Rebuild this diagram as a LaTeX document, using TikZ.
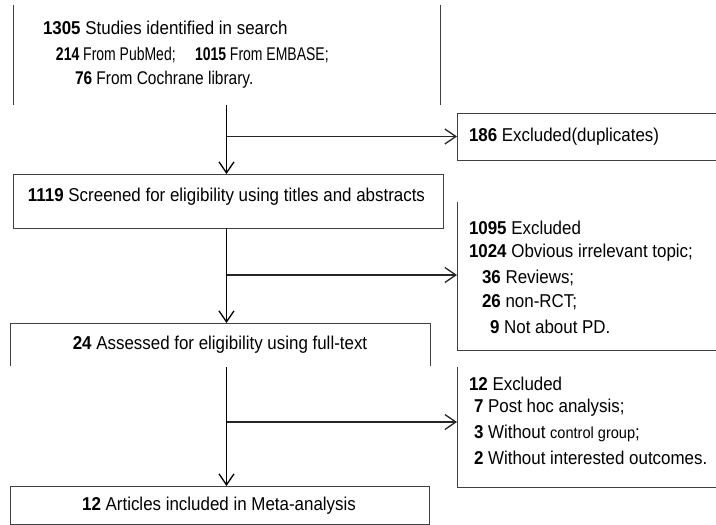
\documentclass[tikz,border=0pt]{standalone}
\usepackage{fontspec}
\setmainfont{Liberation Sans}[FakeStretch=0.91]
\newfontfamily\narrowfont{Liberation Sans}[FakeStretch=0.84]
\newfontfamily\narrowerfont{Liberation Sans}[FakeStretch=0.76]
\usetikzlibrary{arrows.meta,calc}
\newcommand\bnum[1]{\textbf{#1}}
\begin{document}
\begin{tikzpicture}[x=1pt,y=-1pt,
  boxn/.style={draw=none,rectangle,inner sep=0pt,outer sep=0pt},
  edge/.style={line width=0.9pt,draw=black!75},
  flow/.style={line width=1.7pt,draw=black},
  branch/.style={line width=1.5pt,draw=black!85},
  arr/.style={-{Straight Barb[length=11pt,width=15pt,line width=1.3pt]}},
  lbl/.style={inner sep=0pt,outer sep=0pt,anchor=west,font=\fontsize{18.6}{22}\selectfont},
  slbl/.style={inner sep=0pt,outer sep=0pt,anchor=west,font=\narrowfont\fontsize{18.4}{22}\selectfont},
  tlbl/.style={inner sep=0pt,outer sep=0pt,anchor=west,font=\narrowerfont\fontsize{18.4}{22}\selectfont},
  clbl/.style={inner sep=0pt,outer sep=0pt,anchor=center,font=\fontsize{18.6}{22}\selectfont}]
\useasboundingbox (0,0) rectangle (716,525);

% boxes (geometry)
\node[boxn,minimum width=427pt,minimum height=100pt] (b1) at (226.5,55) {};
\node[boxn,minimum width=262pt,minimum height=47pt] (e1) at (588,136.5) {};
\node[boxn,minimum width=430pt,minimum height=54pt] (b2) at (228,201) {};
\node[boxn,minimum width=262pt,minimum height=148pt] (e2) at (588,276) {};
\node[boxn,minimum width=420pt,minimum height=43pt] (b4) at (220,344.5) {};
\node[boxn,minimum width=262pt,minimum height=120pt] (e3) at (588,427) {};
\node[boxn,minimum width=419pt,minimum height=38pt] (b5) at (219.5,505) {};

% box outlines (as printed)
\draw[edge] (b1.north west) -- (b1.south west);
\draw[edge] (b1.north east) -- (b1.south east);
\draw[edge] (e1.north east) -- (e1.north west) -- (e1.south west) -- (e1.south east);
\draw[edge] (b2.north west) rectangle (b2.south east);
\draw[edge] (e2.north west) -- (e2.south west) -- (e2.south east);
\draw[edge] (b4.south west) -- (b4.north west) -- (b4.north east) -- (b4.south east);
\draw[edge] (e3.north west) -- (e3.south west) -- (e3.south east);
\draw[edge] (b5.north west) rectangle (b5.south east);

% texts
\node[lbl] (t1a) at (43,28) {\bnum{1305} Studies identified in search};
\node[tlbl] (t1b) at (56,55) {\bnum{214} From PubMed;};
\node[tlbl] (t1c) at (195,55) {\bnum{1015} From EMBASE;};
\node[slbl] (t1d) at (75,80) {\bnum{76} From Cochrane library.};

\node[lbl] (te1) at (469,137) {\bnum{186} Excluded(duplicates)};

\node[clbl] (tb2) at (226.5,197) {\bnum{1119} Screened for eligibility using titles and abstracts};

\node[lbl] (te2a) at (469,228) {\bnum{1095} Excluded};
\node[lbl] (te2b) at (469,253) {\bnum{1024} Obvious irrelevant topic;};
\node[lbl] (te2c) at (482,278) {\bnum{36} Reviews;};
\node[lbl] (te2d) at (482,302) {\bnum{26} non-RCT;};
\node[lbl] (te2e) at (490,327) {\bnum{9} Not about PD.};

\node[clbl] (tb4) at (220,345) {\bnum{24} Assessed for eligibility using full-text};

\node[lbl] (te3a) at (469,384) {\bnum{12} Excluded};
\node[lbl] (te3b) at (474,408) {\bnum{7} Post hoc analysis;};
\node[lbl] (te3c) at (474,433) {\bnum{3} Without {\fontsize{16}{18}\selectfont control group};};
\node[lbl] (te3d) at (474,458) {\bnum{2} Without interested outcomes.};

\node[clbl] (tb5) at (219,506) {\bnum{12} Articles included in Meta-analysis};

% main flow
\draw[flow,arr] (b1.south) -- (b2.north -| b1.south);
\draw[branch,arr] (b1.south |- e1.west) -- (e1.west);

\draw[flow,arr] ($(b2.south)+(-1.5,0)$) -- ($(b4.north -| b2.south)+(-1.5,0)$);
\draw[branch,arr] ($(b2.south |- e2.west)+(-1.5,-1)$) -- ($(e2.west)+(0,-1)$);

\draw[flow,arr] ($(b4.south -| b2.south)+(-1.5,1)$) -- ($(b5.north -| b2.south)+(-1.5,0)$);
\draw[branch,arr] ($(b2.south |- e3.west)+(-1.5,-5)$) -- ($(e3.west)+(0,-5)$);
\end{tikzpicture}
\end{document}
